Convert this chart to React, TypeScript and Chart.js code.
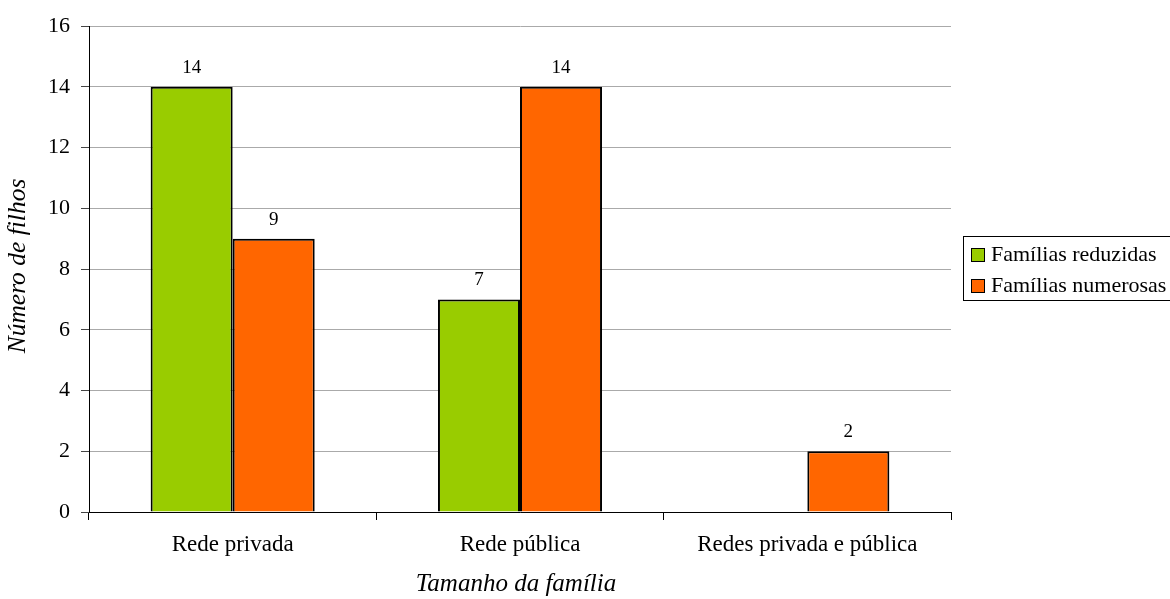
import React, { useEffect, useRef } from "react";
import { Chart, registerables } from "chart.js";

Chart.register(...registerables);

const categories = ["Rede privada", "Rede pública", "Redes privada e pública"];
const seriesNames = ["Famílias reduzidas", "Famílias numerosas"];
const reduzidas: (number | null)[] = [14, 7, null];
const numerosas: (number | null)[] = [9, 14, 2];
const yTicks = [0, 2, 4, 6, 8, 10, 12, 14, 16];
const colors = ["#99CC00", "#FF6600"];
const xTitle = "Tamanho da família";
const yTitle = "Número de filhos";

const FONT = "'Liberation Serif', 'Times New Roman', serif";

const overlayPlugin = {
  id: "overlay",
  afterDatasetsDraw(chart: any) {
    const ctx = chart.ctx;
    ctx.save();
    // data labels
    ctx.fillStyle = "#000";
    ctx.font = `19px ${FONT}`;
    ctx.textAlign = "center";
    ctx.textBaseline = "alphabetic";
    chart.data.datasets.forEach((ds: any, i: number) => {
      const meta = chart.getDatasetMeta(i);
      meta.data.forEach((bar: any, j: number) => {
        const v = ds.data[j];
        if (v === null || v === undefined) return;
        ctx.fillText(String(v), bar.x, bar.y - 14);
      });
    });
    // axis titles
    ctx.font = `italic 25px ${FONT}`;
    ctx.textBaseline = "middle";
    ctx.fillText(xTitle, 516, 584);
    ctx.save();
    ctx.translate(18, 266);
    ctx.rotate(-Math.PI / 2);
    ctx.font = `italic 25.5px ${FONT}`;
    ctx.fillText(yTitle, 0, 0);
    ctx.restore();
    // legend
    ctx.fillStyle = "#fff";
    ctx.fillRect(963.5, 236.5, 220, 64);
    ctx.strokeStyle = "#000";
    ctx.lineWidth = 1;
    ctx.strokeRect(963.5, 236.5, 220, 64);
    ctx.font = `22px ${FONT}`;
    ctx.textAlign = "left";
    ctx.textBaseline = "middle";
    seriesNames.forEach((name, i) => {
      const y = 248 + i * 31;
      ctx.fillStyle = colors[i];
      ctx.fillRect(971.5, y + 0.5, 13, 13);
      ctx.strokeStyle = "#000";
      ctx.strokeRect(971.5, y + 0.5, 13, 13);
      ctx.fillStyle = "#000";
      ctx.fillText(name, 991, y + 7.5);
    });
    ctx.restore();
  },
};

export default function App() {
  const ref = useRef<HTMLCanvasElement | null>(null);
  useEffect(() => {
    if (!ref.current) return;
    const chart = new Chart(ref.current, {
      type: "bar",
      data: {
        labels: categories,
        datasets: [
          {
            label: seriesNames[0],
            data: reduzidas,
            backgroundColor: colors[0],
            borderColor: "#000",
            borderWidth: 2,
            categoryPercentage: 0.571,
            barPercentage: 1,
          },
          {
            label: seriesNames[1],
            data: numerosas,
            backgroundColor: colors[1],
            borderColor: "#000",
            borderWidth: 2,
            categoryPercentage: 0.571,
            barPercentage: 1,
          },
        ],
      },
      options: {
        animation: false,
        responsive: false,
        maintainAspectRatio: false,
        layout: { padding: { left: 0, top: 26, right: 219, bottom: 0 } },
        plugins: {
          legend: { display: false },
          tooltip: { enabled: false },
        },
        scales: {
          x: {
            grid: {
              offset: true,
              drawOnChartArea: false,
              tickLength: 8,
              tickColor: "#000",
            },
            border: { color: "#000", width: 1 },
            ticks: {
              color: "#000",
              font: { family: FONT, size: 23 },
              padding: 11,
              maxRotation: 0,
              autoSkip: false,
            },
            afterFit: (s: any) => {
              s.height = 87;
            },
          },
          y: {
            min: 0,
            max: 16,
            afterBuildTicks: (s: any) => {
              s.ticks = yTicks.map((v) => ({ value: v }));
            },
            grid: {
              color: "#aaaaaa",
              tickLength: 8,
              tickColor: "#444",
            },
            border: { color: "#000", width: 1 },
            ticks: {
              color: "#000",
              font: { family: FONT, size: 22 },
              padding: 11,
            },
            afterFit: (s: any) => {
              s.width = 89;
            },
          },
        },
      },
      plugins: [overlayPlugin],
    });
    return () => chart.destroy();
  }, []);
  return (
    <div style={{ position: "absolute", left: 0, top: 0, width: 1170, height: 599, background: "#fff" }}>
      <canvas ref={ref} width={1170} height={599} style={{ width: 1170, height: 599 }} />
    </div>
  );
}
